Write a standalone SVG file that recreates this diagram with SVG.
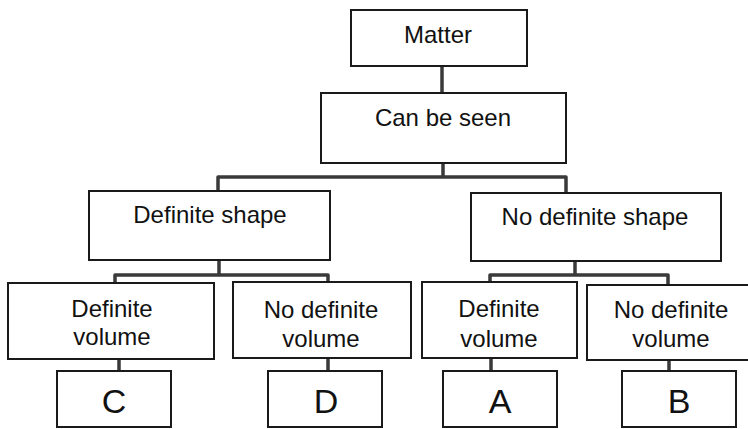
<svg xmlns="http://www.w3.org/2000/svg" width="748" height="429" viewBox="0 0 748 429">
<style>
.box{fill:#fff;stroke:#1a1a1a;stroke-width:2}
.t{font-family:"Liberation Sans",Arial,sans-serif;font-size:24px;fill:#111;text-anchor:middle}
.big{font-family:"Liberation Sans",Arial,sans-serif;font-size:34px;fill:#111;text-anchor:middle}
.c{fill:none;stroke:#3a3a3a;stroke-width:3.5;stroke-linejoin:round}
</style>
<rect width="748" height="429" fill="#fff"/>
<g id="connectors">
<path class="c" d="M442 66V93"/>
<path class="c" d="M443 163V177M218 191V177H566V193"/>
<path class="c" d="M219 260V275M115 283V275H328V282"/>
<path class="c" d="M575 261V275M490 282V275H668V285"/>
<path class="c" d="M119 359V371M328 358V371M491 358V371M669 360V371"/>
</g>
<g id="matter"><rect class="box" x="351" y="10" width="176" height="56"/><text class="t" x="438" y="43">Matter</text></g>
<g id="can-be-seen"><rect class="box" x="321" y="93" width="245" height="70"/><text class="t" x="443" y="126">Can be seen</text></g>
<g id="definite-shape"><rect class="box" x="89" y="191" width="241" height="69"/><text class="t" x="210" y="223">Definite shape</text></g>
<g id="no-definite-shape"><rect class="box" x="471" y="193" width="250" height="68"/><text class="t" x="595" y="225">No definite shape</text></g>
<g id="def-vol-1"><rect class="box" x="8" y="283" width="206" height="76"/><text class="t" x="112" y="317">Definite</text><text class="t" x="112" y="345">volume</text></g>
<g id="nodef-vol-1"><rect class="box" x="233" y="282" width="178" height="76"/><text class="t" x="321" y="318">No definite</text><text class="t" x="321" y="347">volume</text></g>
<g id="def-vol-2"><rect class="box" x="422" y="282" width="155" height="76"/><text class="t" x="499" y="317">Definite</text><text class="t" x="499" y="347">volume</text></g>
<g id="nodef-vol-2"><rect class="box" x="587" y="285" width="168" height="75"/><text class="t" x="671" y="318">No definite</text><text class="t" x="671" y="347">volume</text></g>
<g id="c"><rect class="box" x="57" y="371" width="114" height="56"/><text class="big" x="114" y="413">C</text></g>
<g id="d"><rect class="box" x="268" y="371" width="114" height="56"/><text class="big" x="326" y="413">D</text></g>
<g id="a"><rect class="box" x="443" y="371" width="114" height="56"/><text class="big" x="500" y="413">A</text></g>
<g id="b"><rect class="box" x="622" y="371" width="114" height="56"/><text class="big" x="679" y="413">B</text></g>
</svg>
